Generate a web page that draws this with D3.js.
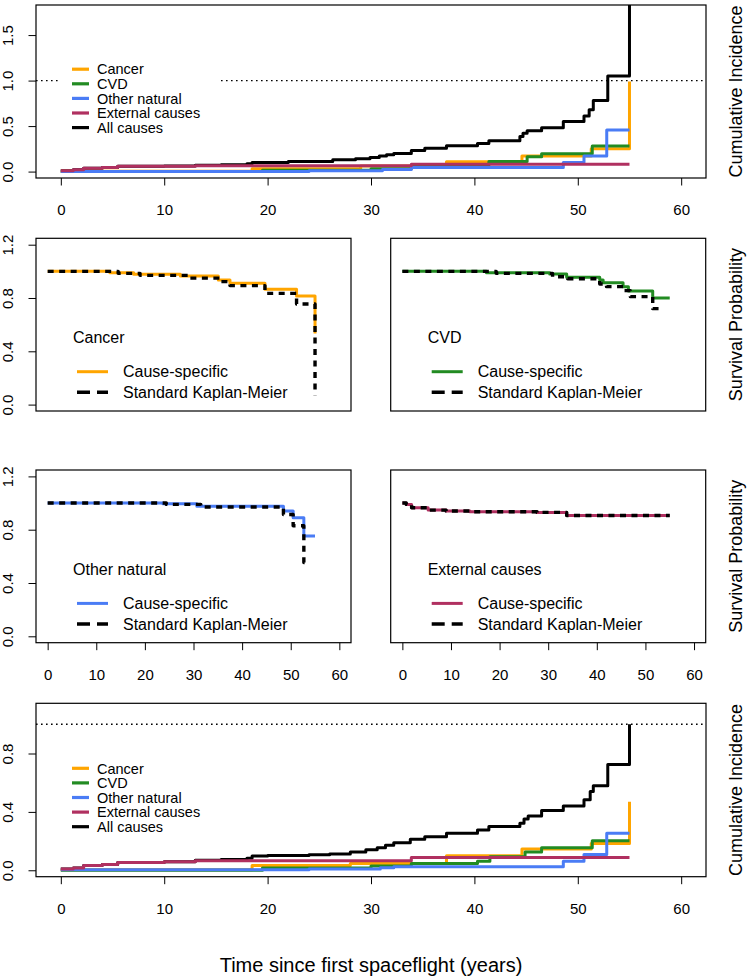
<!DOCTYPE html>
<html><head><meta charset="utf-8">
<script src="https://cdn.jsdelivr.net/npm/d3@7"></script>
<style>
body{margin:0;background:#fff;}
svg text{font-family:"Liberation Sans",Arial,sans-serif;fill:#000;}
</style></head><body>
<svg id="chart" width="747" height="977"></svg>
<script>
// ---------------- DATA ----------------
const causes = ["Cancer", "CVD", "Other natural", "External causes", "All causes"];
const xTicks = [0, 10, 20, 30, 40, 50, 60];
const yTicksTop = [0, 0.5, 1.0, 1.5];
const yTicksSurv = [0, 0.4, 0.8, 1.2];
const yTicksBottom = [0, 0.4, 0.8];
const kmLegend = ["Cause-specific", "Standard Kaplan-Meier"];
const xTitle = "Time since first spaceflight (years)";

// top panel: cumulative incidence [time, value]
const topAll = [[0,0.01],[1.2,0.02],[2.2,0.037],[4,0.045],[5.5,0.058],[10,0.062],[13,0.07],[15.5,0.075],[18,0.085],[18.5,0.10],[22,0.11],[26.3,0.13],[28.5,0.14],[29.9,0.155],[30.8,0.17],[31.5,0.185],[32.2,0.20],[33.9,0.232],[35.2,0.256],[37.3,0.283],[40.3,0.31],[41.4,0.34],[44.4,0.385],[44.7,0.42],[45.1,0.45],[46.5,0.483],[48.6,0.55],[50.6,0.61],[51.1,0.68],[51.5,0.78],[52.9,1.05],[55,1.9]];
const topCancer = [[0,0.004],[18.5,0.03],[29,0.062],[37.3,0.107],[44.6,0.17],[51.3,0.25],[55,0.99]];
const topCVD = [[0,0.0],[19.5,0.015],[30,0.03],[33.9,0.055],[41.4,0.11],[45.1,0.164],[46.5,0.195],[51.4,0.28],[55,0.28]];
const topOther = [[0,0.0],[24,0.008],[31.1,0.022],[33.9,0.044],[48.6,0.1],[50.6,0.17],[52.8,0.457],[55,0.457]];
const topExt = [[0,0.01],[1.2,0.02],[2.2,0.037],[4,0.045],[5.5,0.058],[13,0.065],[33.9,0.081],[55,0.081]];

// bottom panel: cumulative incidence
const botAll = [[0,0.008],[1.2,0.015],[2.2,0.033],[4,0.04],[5.5,0.053],[10,0.058],[13,0.068],[15.5,0.073],[18,0.082],[18.5,0.097],[20,0.102],[24,0.106],[26,0.112],[28,0.125],[29.5,0.14],[30.6,0.154],[31.4,0.172],[32.2,0.188],[33.8,0.212],[35.2,0.23],[37.3,0.253],[40.3,0.276],[41.4,0.30],[44.4,0.322],[44.8,0.352],[45.2,0.372],[46.5,0.409],[48.6,0.441],[50.6,0.483],[51.2,0.54],[51.5,0.579],[52.9,0.724],[55,1.0]];
const botCancer = [[0,0.004],[18.5,0.033],[28,0.047],[37.3,0.099],[44.6,0.145],[51.3,0.184],[55,0.47]];
const botCVD = [[0,0.0],[19.5,0.015],[30,0.03],[33.9,0.046],[40.3,0.062],[41.5,0.092],[44.9,0.126],[46.5,0.154],[51.4,0.202],[55,0.202]];
const botOther = [[0,0.003],[24,0.008],[30.9,0.018],[32.2,0.025],[48.6,0.062],[50.6,0.108],[52.8,0.253],[55,0.253]];
const botExt = [[0,0.008],[1.2,0.015],[2.2,0.033],[4,0.04],[5.5,0.053],[10,0.058],[13,0.065],[33.9,0.088],[55,0.088]];

// survival panels: cause-specific vs standard Kaplan-Meier
const cancerCS = [[0,1.0],[12.8,0.99],[17.7,0.978],[27.3,0.966],[35.1,0.936],[37.5,0.91],[44.7,0.866],[51.2,0.815],[55,0.534]];
const cancerKM = [[0,1.0],[14.5,0.985],[19,0.97],[29.3,0.949],[35.5,0.923],[37.5,0.893],[44.7,0.835],[51.2,0.755],[55,0.07]];
const cvdCS = [[0,1.0],[17.3,0.99],[30.3,0.98],[33.8,0.956],[40.6,0.936],[41.3,0.915],[45.4,0.885],[46.5,0.853],[51.5,0.80],[55,0.80]];
const cvdKM = [[0,1.0],[19.3,0.985],[30.9,0.96],[34,0.944],[40.6,0.905],[42,0.885],[45.4,0.855],[46.9,0.81],[51.5,0.72],[53.4,0.72]];
const otherCS = [[0,1.0],[23.7,0.994],[30.7,0.976],[48.5,0.94],[50.5,0.89],[52.7,0.752],[55,0.752]];
const otherKM = [[0,1.0],[24.4,0.99],[31.5,0.97],[48.5,0.914],[50.5,0.83],[52.7,0.553],[53.5,0.553]];
const extCS = [[0,1.0],[0.8,0.99],[1.9,0.965],[5.3,0.947],[9,0.94],[13.9,0.935],[27.7,0.93],[33.8,0.907],[55,0.907]];
const extKM = [[0,1.0],[0.8,0.99],[1.9,0.965],[5.3,0.947],[9,0.94],[13.9,0.935],[27.7,0.93],[33.8,0.907],[55,0.907]];

// ---------------- STYLE ----------------
const colors = {"Cancer":"#FFA500","CVD":"#228B22","Other natural":"#4A7CF5","External causes":"#B03060","All causes":"#000000"};
const FONT = "'Liberation Sans', Arial, sans-serif";

const svg = d3.select("#chart");
svg.append("rect").attr("width",747).attr("height",977).attr("fill","#fff");
const defs = svg.append("defs");

function makePanel(id, box, ydom, opts) {
  const x = d3.scaleLinear().domain([-2.4, 62.4]).range([box.x0, box.x1]);
  const y = d3.scaleLinear().domain(ydom).range([box.y1, box.y0]);
  defs.append("clipPath").attr("id", "clip" + id).append("rect")
    .attr("x", box.x0).attr("y", box.y0).attr("width", box.x1 - box.x0).attr("height", box.y1 - box.y0);
  const g = svg.append("g");
  const plot = g.append("g").attr("clip-path", `url(#clip${id})`);
  const over = g.append("g");
  if (opts.xAxis) {
    const ax = g.append("g").attr("transform", `translate(0,${box.y1})`)
      .call(d3.axisBottom(x).tickValues(xTicks).tickSize(7.5).tickSizeOuter(0).tickFormat(d3.format("d")));
    ax.attr("font-family", null).attr("font-size", null);
    ax.select(".domain").remove();
    ax.selectAll("line").attr("stroke", "#000").attr("stroke-width", 1);
    ax.selectAll("text").attr("y", 37).attr("dy", null).style("font-size", "15px").style("font-family", FONT).attr("fill", "#000");
  }
  if (opts.yTicks) {
    const ay = g.append("g").attr("transform", `translate(${box.x0},0)`)
      .call(d3.axisLeft(y).tickValues(opts.yTicks).tickSize(7.5).tickSizeOuter(0).tickFormat(d3.format(".1f")));
    ay.attr("font-family", null).attr("font-size", null);
    ay.select(".domain").remove();
    ay.selectAll("line").attr("stroke", "#000").attr("stroke-width", 1);
    ay.selectAll("text").attr("x", null).attr("dy", null)
      .attr("transform", `translate(${13 - box.x0},0) rotate(-90)`)
      .attr("text-anchor", "middle").style("font-size", "15px").style("font-family", FONT).attr("fill", "#000");
  }
  g.append("rect").attr("x", box.x0).attr("y", box.y0)
    .attr("width", box.x1 - box.x0).attr("height", box.y1 - box.y0)
    .attr("fill", "none").attr("stroke", "#000").attr("stroke-width", 1.2);
  return {x, y, plot, over, box};
}

function stepLine(p, data, color, width, dash) {
  const line = d3.line().x(d => p.x(d[0])).y(d => p.y(d[1])).curve(d3.curveStepAfter);
  const path = p.plot.append("path").datum(data).attr("d", line)
    .attr("fill", "none").attr("stroke", color).attr("stroke-width", width)
    .attr("stroke-linejoin", "round");
  if (dash) path.attr("stroke-dasharray", dash);
  return path;
}

function refLine(p, v) {
  p.plot.append("line").attr("x1", p.box.x0).attr("x2", p.box.x1)
    .attr("y1", p.y(v)).attr("y2", p.y(v))
    .attr("stroke", "#000").attr("stroke-width", 1.4).attr("stroke-dasharray", "1.6,3.4");
}

function ciLegend(p, top, step, fs) {
  p.over.append("rect").attr("x", 58).attr("y", top - 12).attr("width", 163).attr("height", step * 5 + 8).attr("fill", "#fff");
  causes.forEach((c, i) => {
    const yy = top + i * step;
    p.over.append("line").attr("x1", 72).attr("x2", 89).attr("y1", yy).attr("y2", yy)
      .attr("stroke", colors[c]).attr("stroke-width", 3.2);
    p.over.append("text").attr("x", 97).attr("y", yy + fs * 0.36).text(c).style("font-size", fs + "px");
  });
}

function survLegend(p, title, color) {
  const x0 = p.box.x0, y0 = p.box.y0;
  p.over.append("text").attr("x", x0 + 37).attr("y", y0 + 105).text(title).style("font-size", "16px");
  p.over.append("line").attr("x1", x0 + 41).attr("x2", x0 + 72).attr("y1", y0 + 133.4).attr("y2", y0 + 133.4)
    .attr("stroke", color).attr("stroke-width", 3);
  p.over.append("text").attr("x", x0 + 87).attr("y", y0 + 139).text(kmLegend[0]).style("font-size", "16px");
  p.over.append("line").attr("x1", x0 + 41).attr("x2", x0 + 72).attr("y1", y0 + 154).attr("y2", y0 + 154)
    .attr("stroke", "#000").attr("stroke-width", 3.4).attr("stroke-dasharray", "13,7");
  p.over.append("text").attr("x", x0 + 87).attr("y", y0 + 159.6).text(kmLegend[1]).style("font-size", "16px");
}

// ---------------- PANEL 1 (top) ----------------
const p1 = makePanel(1, {x0:36, x1:706, y0:5, y1:178}, [-0.0704, 1.8304], {xAxis:true, yTicks:yTicksTop});
refLine(p1, 1);
stepLine(p1, topAll, colors["All causes"], 3);
stepLine(p1, topCancer, colors["Cancer"], 3);
stepLine(p1, topCVD, colors["CVD"], 3);
stepLine(p1, topOther, colors["Other natural"], 3);
stepLine(p1, topExt, colors["External causes"], 3);
ciLegend(p1, 69.2, 14.6, 14.5);

// ---------------- SURVIVAL PANELS ----------------
const survDom = [-0.048, 1.248];
const p2 = makePanel(2, {x0:36, x1:351, y0:238.3, y1:411}, survDom, {xAxis:false, yTicks:yTicksSurv});
stepLine(p2, cancerCS, colors["Cancer"], 3);
stepLine(p2, cancerKM, "#000", 3.4, "6,5.5");
survLegend(p2, causes[0], colors["Cancer"]);

const p3 = makePanel(3, {x0:390.7, x1:705.7, y0:238.3, y1:411}, survDom, {xAxis:false, yTicks:null});
stepLine(p3, cvdCS, colors["CVD"], 3);
stepLine(p3, cvdKM, "#000", 3.4, "6,5.5");
survLegend(p3, causes[1], colors["CVD"]);

const p4 = makePanel(4, {x0:36, x1:351, y0:470, y1:642.7}, survDom, {xAxis:true, yTicks:yTicksSurv});
stepLine(p4, otherCS, colors["Other natural"], 3);
stepLine(p4, otherKM, "#000", 3.4, "6,5.5");
survLegend(p4, causes[2], colors["Other natural"]);

const p5 = makePanel(5, {x0:390.7, x1:705.7, y0:470, y1:642.7}, survDom, {xAxis:true, yTicks:null});
stepLine(p5, extCS, colors["External causes"], 3);
stepLine(p5, extKM, "#000", 3.4, "6,5.5");
survLegend(p5, causes[3], colors["External causes"]);

// ---------------- PANEL 6 (bottom) ----------------
const p6 = makePanel(6, {x0:36, x1:706, y0:703.3, y1:876.7}, [-0.044, 1.144], {xAxis:true, yTicks:yTicksBottom});
refLine(p6, 1);
stepLine(p6, botAll, colors["All causes"], 3);
stepLine(p6, botCancer, colors["Cancer"], 3);
stepLine(p6, botCVD, colors["CVD"], 3);
stepLine(p6, botOther, colors["Other natural"], 3);
stepLine(p6, botExt, colors["External causes"], 3);
ciLegend(p6, 768.3, 14.6, 14.5);

// ---------------- SIDE & AXIS TITLES ----------------
function sideLabel(txt, cy) {
  svg.append("text").attr("transform", `translate(742,${cy}) rotate(-90)`)
    .attr("text-anchor", "middle").style("font-size", "18px").text(txt);
}
sideLabel("Cumulative Incidence", 91.5);
sideLabel("Survival Probability", 324.6);
sideLabel("Survival Probability", 556.3);
sideLabel("Cumulative Incidence", 790);

svg.append("text").attr("x", 371).attr("y", 972).attr("text-anchor", "middle")
  .style("font-size", "20px").text(xTitle);
</script>
</body></html>
